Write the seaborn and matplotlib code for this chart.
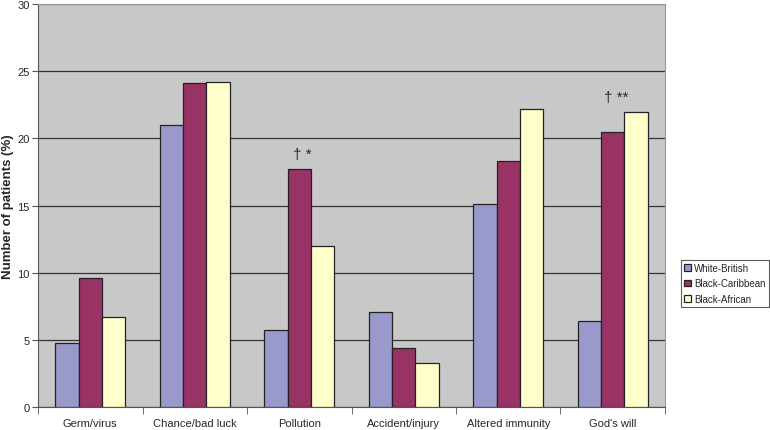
import pandas as pd
import matplotlib.pyplot as plt
import seaborn as sns
from matplotlib.ticker import FixedLocator

# Data
categories = ['Germ/virus', 'Chance/bad luck', 'Pollution', 'Accident/injury', 'Altered immunity', "God's will"]
groups = ['White-British', 'Black-Caribbean', 'Black-African']
white_british = [4.8, 21.0, 5.7, 7.1, 15.1, 6.4]
black_caribbean = [9.6, 24.1, 17.7, 4.4, 18.3, 20.5]
black_african = [6.7, 24.2, 12.0, 3.3, 22.2, 22.0]
annotations = {'Pollution': '† *', "God's will": '† **'}

df = pd.DataFrame({
    'Cause': categories * 3,
    'Group': [groups[0]] * 6 + [groups[1]] * 6 + [groups[2]] * 6,
    'Percent': white_british + black_caribbean + black_african,
})

colors = ['#9999cc', '#993366', '#ffffcc']

sns.set_style('white')
plt.rcParams['font.family'] = ['Liberation Sans', 'DejaVu Sans']

fig = plt.figure(figsize=(7.7, 4.31), dpi=100)
ax = fig.add_axes([0.0494, 0.0534, 0.8142, 0.9346])
ax.set_facecolor('#c8c8c8')

sns.barplot(data=df, x='Cause', y='Percent', hue='Group', palette=colors,
            width=0.67, edgecolor='#222222', linewidth=0.9, ax=ax, legend=True,
            saturation=1, zorder=3)

ax.set_ylim(0, 30)
ax.set_xlim(-0.5, 5.5)
ax.set_yticks(range(0, 31, 5))
ax.yaxis.grid(True, color='#333333', linewidth=0.9, zorder=0)
ax.set_axisbelow(True)

for s in ['left', 'bottom']:
    ax.spines[s].set_color('#555555')
for s in ['top', 'right']:
    ax.spines[s].set_color('#999999')

ax.tick_params(axis='x', which='major', length=0, labelsize=8, pad=8)
ax.xaxis.set_minor_locator(FixedLocator([i - 0.5 for i in range(7)]))
ax.tick_params(axis='x', which='minor', length=5, direction='out', bottom=True, color='#555555')
ax.tick_params(axis='y', length=4, direction='out', left=True, labelsize=8,
               color='#555555', pad=2)

ax.set_xlabel('')
ax.set_ylabel('Number of patients (%)', fontsize=9.5, fontweight='bold')
ax.yaxis.set_label_coords(-0.038, 0.5)

# significance markers over the Caribbean/African bars
for cat, txt in annotations.items():
    i = categories.index(cat)
    top = max(black_caribbean[i], black_african[i]) if cat == "God's will" else black_caribbean[i]
    ax.text(i + 0.03, top + 0.6, txt, ha='center', va='bottom', fontsize=11)

handles, labels = ax.get_legend_handles_labels()
ax.legend_.remove()
leg = fig.legend(handles, labels, loc='center left', bbox_to_anchor=(0.884, 0.34),
                 fontsize=7, frameon=True, fancybox=False, edgecolor='#333333',
                 handlelength=0.7, handleheight=0.7, handletextpad=0.3,
                 borderpad=0.35, labelspacing=0.55, borderaxespad=0)
leg.get_frame().set_linewidth(0.8)

fig.savefig('out.png', dpi=100)
